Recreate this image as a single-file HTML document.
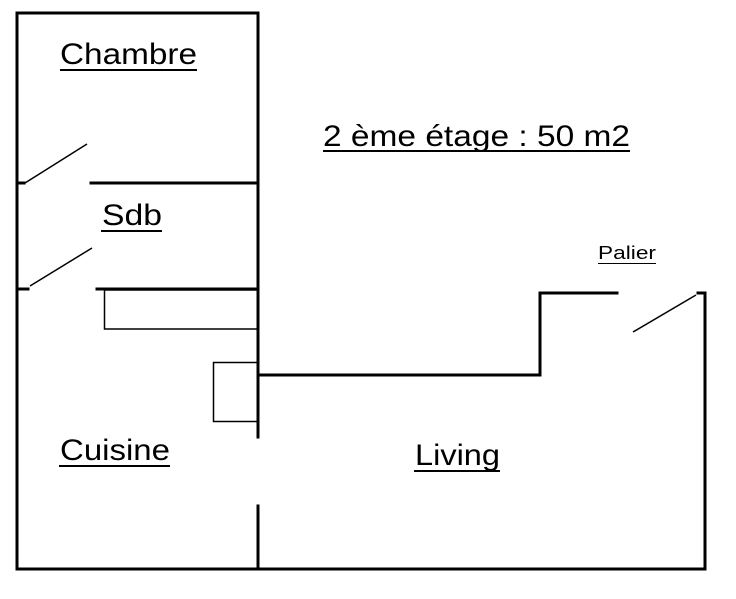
<!DOCTYPE html>
<html><head><meta charset="utf-8"><style>html,body{margin:0;padding:0;background:#fff}svg{display:block}</style></head>
<body>
<svg width="736" height="599" viewBox="0 0 736 599" xmlns="http://www.w3.org/2000/svg">
<g stroke="#000" stroke-width="3" fill="none" stroke-linecap="square">
<polyline points="258,437 258,13 17,13 17,569 705,569 705,293 698,293"/>
<line x1="258" y1="506" x2="258" y2="569"/>
<polyline points="258,375 540,375 540,293 617,293"/>
<line x1="91" y1="183" x2="258" y2="183"/>
<line x1="17" y1="183" x2="24" y2="183"/>
<line x1="97" y1="289" x2="258" y2="289"/>
<line x1="17" y1="289" x2="28" y2="289"/>
</g>
<g stroke="#000" stroke-width="1.5" fill="none">
<line x1="25" y1="183" x2="87" y2="144"/>
<line x1="30" y1="286" x2="92" y2="248"/>
<line x1="633" y1="332" x2="696" y2="295"/>
<rect x="104.5" y="290" width="153" height="39"/>
<rect x="213.5" y="362.5" width="44" height="59"/>
</g>
<g font-family="Liberation Sans, Arial, sans-serif" fill="#000">
<text x="60" y="64" font-size="30" textLength="137" lengthAdjust="spacingAndGlyphs">Chambre</text>
<text x="102" y="225" font-size="30" textLength="60" lengthAdjust="spacingAndGlyphs">Sdb</text>
<text x="60" y="460" font-size="30" textLength="110" lengthAdjust="spacingAndGlyphs">Cuisine</text>
<text x="415" y="465" font-size="30" textLength="85" lengthAdjust="spacingAndGlyphs">Living</text>
<text x="323" y="146" font-size="30" textLength="307" lengthAdjust="spacingAndGlyphs">2 ème étage : 50 m2</text>
<text x="598" y="259" font-size="18" textLength="58" lengthAdjust="spacingAndGlyphs">Palier</text>
</g>
<g stroke="#000" stroke-width="2">
<line x1="60" y1="70" x2="197" y2="70"/>
<line x1="101" y1="231" x2="162" y2="231"/>
<line x1="59" y1="466" x2="170" y2="466"/>
<line x1="414" y1="471" x2="500" y2="471"/>
<line x1="323" y1="151" x2="630" y2="151"/>
<line x1="598" y1="263.5" x2="656" y2="263.5" stroke-width="1"/>
</g>
</svg>
</body></html>
